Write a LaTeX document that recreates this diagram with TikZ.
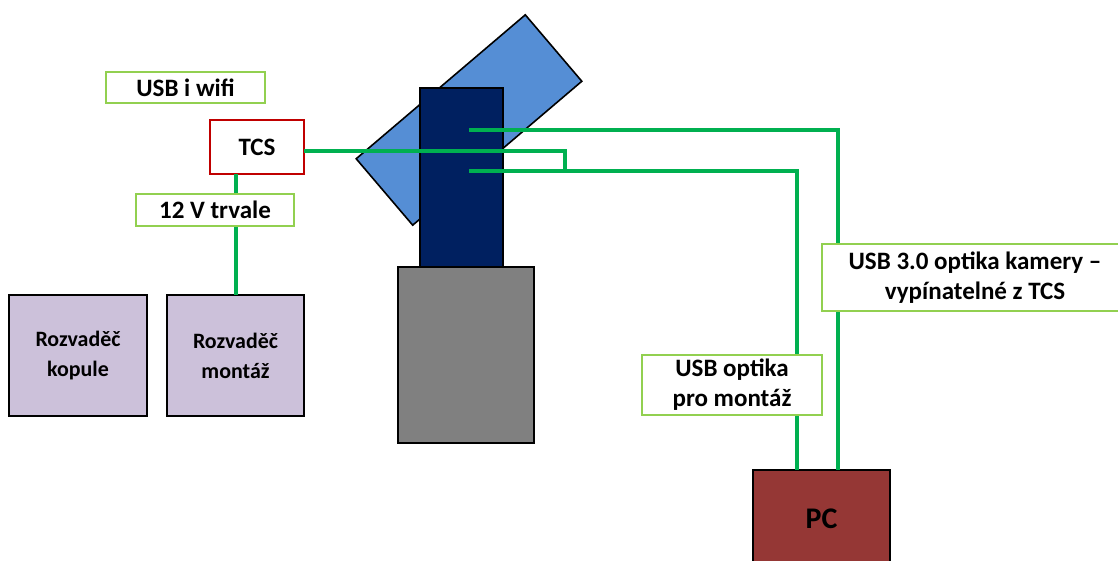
\documentclass[tikz,border=0pt]{standalone}
\usepackage{fontspec}
\setmainfont{Carlito}
\definecolor{wgreen}{HTML}{00B050}
\definecolor{lgreen}{HTML}{92D050}
\definecolor{tcsred}{HTML}{C00000}
\definecolor{lav}{HTML}{CCC1DA}
\definecolor{tubeblue}{HTML}{558ED5}
\definecolor{navy}{HTML}{002060}
\definecolor{pcred}{HTML}{953735}
\begin{document}
\begin{tikzpicture}[x=0.025cm,y=-0.025cm,
  font=\bfseries\fontsize{17.8}{21.4}\selectfont,
  tag/.style={draw=lgreen,line width=0.05cm,fill=white,inner sep=0pt,align=center},
  part/.style={draw=black,line width=0.04cm,inner sep=0pt,outer sep=0pt,align=center},
  wire/.style={draw=wgreen,line width=0.1cm}]
\useasboundingbox (0,0) rectangle (1118,560);

% Switchboards
\node[part,fill=lav,minimum width=3.45cm,minimum height=3.025cm,
  font=\bfseries\fontsize{15.6}{21.4}\selectfont] (kopule) at (78,355.5)
{Rozvaděč\\kopule};

\node[part,fill=lav,minimum width=3.425cm,minimum height=3.025cm,
  font=\bfseries\fontsize{15.6}{21.4}\selectfont] (montaz) at (235.5,355.5)
{Rozvaděč\\montáž};

% TCS
\node[part,draw=tcsred,line width=0.05cm,fill=white,
  minimum width=2.35cm,minimum height=1.35cm] (tcs) at (257,147)
{TCS};

% Telescope
\node[part,fill=tubeblue,minimum width=5.55cm,minimum height=2.18cm,
  rotate=40.4] (tube) at (469,120) {};

\node[part,fill=navy,minimum width=2.075cm,minimum height=4.475cm] (cam) at (461.5,177.5) {};

\node[part,fill=gray,minimum width=3.4cm,minimum height=4.4cm] (mount) at (466,355) {};

% PC
\node[part,fill=pcred,minimum width=3.425cm,minimum height=2.45cm,
  font=\bfseries\fontsize{21.3}{25}\selectfont] (pc) at (821.5,519)
{PC};

% Cables
\coordinate (c1) at (469,130);
\coordinate (c2) at (469,171);
\coordinate (j1) at (565,151);
\coordinate (j2) at (565,171);

\draw[wire] (tcs.south -| montaz.north)--(montaz.north);
\draw[wire] (tcs.east |- j1)--(j1)--(j2);
\draw[wire] (c1)--(838,130)--(pc.north -| 838,0);
\draw[wire] (c2)--(797,171)--(pc.north -| 797,0);

% Labels
\node[tag,minimum width=3.975cm,minimum height=0.775cm] (wifi) at (185.5,87.5)
{USB i wifi};

\node[tag,minimum width=3.95cm,minimum height=0.8cm] (power) at (215,210)
{12 V trvale};

\node[tag,minimum width=4.5cm,minimum height=1.5cm] (usbm) at (732,385)
{USB optika\\pro montáž};

\node[tag,minimum width=7.65cm,minimum height=1.675cm] (usbk) at (975,277.5)
{USB 3.0 optika kamery –\\vypínatelné z TCS};
\end{tikzpicture}
\end{document}
